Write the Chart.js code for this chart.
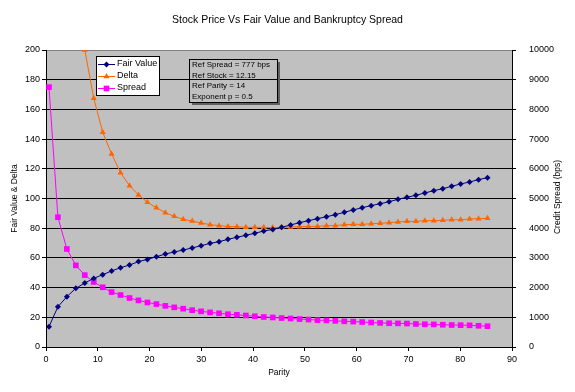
<!DOCTYPE html>
<html>
<head>
<meta charset="utf-8">
<script src="https://cdn.jsdelivr.net/npm/chart.js@4.4.0/dist/chart.umd.min.js"></script>
<style>
  html, body { margin: 0; padding: 0; background: #fff; }
  #chart { display: block; background: #fff; }
</style>
</head>
<body>
<canvas id="chart" width="575" height="392"></canvas>
<script>
// x positions (parity) of the calculated points
const parity = [
  0.58, 2.30, 4.03, 5.76, 7.49, 9.22, 10.95, 12.67, 14.40, 16.13,
  17.86, 19.59, 21.32, 23.05, 24.77, 26.50, 28.23, 29.96, 31.69, 33.42,
  35.14, 36.87, 38.60, 40.33, 42.06, 43.79, 45.51, 47.24, 48.97, 50.70,
  52.43, 54.16, 55.88, 57.61, 59.34, 61.07, 62.80, 64.53, 66.26, 67.98,
  69.71, 71.44, 73.17, 74.90, 76.63, 78.35, 80.08, 81.81, 83.54, 85.27
];

// left axis series
const fairValue = [
  13.7, 27.1, 33.9, 39.5, 43.1, 46.2, 48.7, 51.2, 53.4, 55.2,
  57.5, 59.0, 60.8, 62.6, 64.0, 65.3, 66.7, 68.2, 69.8, 70.9,
  72.5, 73.9, 75.2, 76.6, 78.1, 79.2, 80.6, 82.2, 83.7, 85.1,
  86.4, 87.7, 89.1, 90.7, 92.3, 93.8, 95.2, 96.5, 97.8, 99.5,
  100.8, 102.2, 103.7, 105.3, 106.6, 108.2, 109.8, 111.1, 112.7, 114.0
];
// first few delta points run off the top of the chart
const delta = [
  900, 420, 280, 225, 200, 167.5, 144.6, 130, 117.4, 108.6,
  102.4, 97.4, 93.8, 90.4, 88.0, 86.0, 84.8, 83.5, 82.4, 81.7,
  81.2, 81.0, 80.6, 80.6, 80.6, 80.4, 80.6, 80.8, 81.0, 81.2,
  81.2, 81.7, 81.7, 82.4, 82.6, 82.6, 83.0, 83.3, 83.7, 84.2,
  84.6, 84.6, 85.1, 85.1, 85.3, 85.7, 85.7, 86.2, 86.4, 86.7
];

// right axis series (bps)
const spreadBps = [
  8750, 4370, 3300, 2750, 2420, 2190, 2010, 1850, 1750, 1650,
  1570, 1500, 1445, 1385, 1335, 1290, 1240, 1200, 1165, 1135,
  1105, 1085, 1060, 1035, 1010, 995, 975, 960, 940, 925,
  905, 895, 880, 865, 855, 840, 825, 810, 800, 795,
  790, 775, 765, 760, 750, 740, 735, 730, 715, 700
];

const seriesNames = ["Fair Value", "Delta", "Spread"];
const refNotes = ["Ref Spread = 777 bps", "Ref Stock = 12.15", "Ref Parity = 14", "Exponent p = 0.5"];

const chartTitle = "Stock Price Vs Fair Value and Bankruptcy Spread";
const xTitle = "Parity";
const yTitle = "Fair Value & Delta";
const y2Title = "Credit Spread (bps)";

const FONT = 'Arial, "Liberation Sans", sans-serif';
Chart.defaults.font.family = FONT;
Chart.defaults.font.size = 9;
Chart.defaults.color = "#000";

const toPoints = (ys) => parity.map((p, i) => ({ x: p, y: ys[i] }));

// grey plot area
const plotBackground = {
  id: "plotBackground",
  beforeDraw(chart) {
    const { ctx, chartArea: a } = chart;
    ctx.save();
    ctx.fillStyle = "#c0c0c0";
    ctx.fillRect(a.left, a.top, a.right - a.left, a.bottom - a.top);
    ctx.restore();
  }
};

function marker(ctx, ds, x, y) {
  ctx.fillStyle = ds.pointBackgroundColor;
  ctx.strokeStyle = ds.borderColor;
  if (Chart.helpers && Chart.helpers.drawPoint) {
    Chart.helpers.drawPoint(ctx, { pointStyle: ds.pointStyle, radius: ds.pointRadius, borderWidth: 0, rotation: 0 }, x, y);
  } else {
    ctx.fillRect(x - 3, y - 3, 6, 6);
  }
}

// title, right axis title, legend and note box
const extras = {
  id: "extras",
  afterDraw(chart) {
    const ctx = chart.ctx;
    ctx.save();
    ctx.fillStyle = "#000";
    ctx.textBaseline = "middle";

    ctx.font = "10.5px " + FONT;
    ctx.textAlign = "center";
    ctx.fillText(chartTitle, 287.5, 20);

    ctx.font = "8.5px " + FONT;
    ctx.save();
    ctx.translate(558, 197);
    ctx.rotate(-Math.PI / 2);
    ctx.fillText(y2Title, 0, 0);
    ctx.restore();

    // legend
    ctx.fillStyle = "#fff";
    ctx.fillRect(96, 56, 63, 39);
    ctx.strokeStyle = "#000";
    ctx.lineWidth = 1;
    ctx.strokeRect(96.5, 56.5, 63, 39);
    const rows = [63.5, 75.5, 88];
    ctx.font = "9px " + FONT;
    ctx.textAlign = "left";
    chart.data.datasets.forEach((ds, i) => {
      const y = Math.round(rows[i]) + 0.5;
      ctx.strokeStyle = ds.borderColor;
      ctx.beginPath();
      ctx.moveTo(98, y);
      ctx.lineTo(115, y);
      ctx.stroke();
      marker(ctx, ds, 106.5, y);
      ctx.fillStyle = "#000";
      ctx.fillText(ds.label, 117, rows[i]);
    });

    // note box with shadow, see-through
    ctx.fillStyle = "#606060";
    ctx.fillRect(278, 62, 2, 43);
    ctx.fillRect(192, 103, 88, 2);
    ctx.strokeStyle = "#000";
    ctx.strokeRect(189.5, 59.5, 88, 43);
    ctx.fillStyle = "#000";
    ctx.font = "8px " + FONT;
    refNotes.forEach((t, i) => ctx.fillText(t, 192, 65 + i * 10.6));

    ctx.restore();
  }
};

const ctx = document.getElementById("chart").getContext("2d");
new Chart(ctx, {
  type: "line",
  data: {
    datasets: [
      {
        label: seriesNames[0],
        data: toPoints(fairValue),
        yAxisID: "y",
        borderColor: "#000080",
        backgroundColor: "#000080",
        pointBackgroundColor: "#000080",
        pointStyle: "rectRot",
        pointRadius: 3,
        pointBorderWidth: 0,
        borderWidth: 1
      },
      {
        label: seriesNames[1],
        data: toPoints(delta),
        yAxisID: "y",
        borderColor: "#ff6600",
        backgroundColor: "#ff6600",
        pointBackgroundColor: "#ff6600",
        pointStyle: "triangle",
        pointRadius: 3.5,
        pointBorderWidth: 0,
        borderWidth: 1
      },
      {
        label: seriesNames[2],
        data: toPoints(spreadBps),
        yAxisID: "y2",
        borderColor: "#ff00ff",
        backgroundColor: "#ff00ff",
        pointBackgroundColor: "#ff00ff",
        pointStyle: "rect",
        pointRadius: 4,
        pointBorderWidth: 0,
        borderWidth: 1
      }
    ]
  },
  options: {
    responsive: false,
    animation: false,
    devicePixelRatio: 1,
    events: [],
    layout: { padding: { top: 50, left: 0, right: 0, bottom: 0 } },
    plugins: {
      legend: { display: false },
      title: { display: false },
      tooltip: { enabled: false }
    },
    elements: { line: { tension: 0 } },
    scales: {
      x: {
        type: "linear",
        min: 0,
        max: 90,
        ticks: { stepSize: 10, padding: 3, maxRotation: 0 },
        grid: { drawOnChartArea: false, drawTicks: true, tickLength: 4, tickColor: "#000" },
        border: { display: true, color: "#000", width: 1 },
        title: { display: true, text: xTitle, font: { size: 8.5 }, padding: { top: 0, bottom: 14 } },
        afterFit: (s) => { s.height = 45; }
      },
      y: {
        position: "left",
        min: 0,
        max: 200,
        ticks: { stepSize: 20, padding: 2 },
        grid: {
          color: (c) => (c.tick && c.tick.value === 200 ? "#808080" : "#000"),
          lineWidth: 1,
          drawTicks: true,
          tickLength: 4,
          tickColor: "#000"
        },
        border: { display: true, color: "#000", width: 1 },
        title: { display: true, text: yTitle, font: { size: 8.5 }, padding: { top: 10, bottom: 0 } },
        afterFit: (s) => { s.width = 46; }
      },
      y2: {
        position: "right",
        min: 0,
        max: 10000,
        ticks: { stepSize: 1000, padding: 13, callback: (v) => String(v) },
        grid: { drawOnChartArea: false, drawTicks: true, tickLength: 4, tickColor: "#000" },
        border: { display: true, color: "#000", width: 1 },
        afterFit: (s) => { s.width = 63; }
      }
    }
  },
  plugins: [plotBackground, extras]
});
</script>
</body>
</html>
